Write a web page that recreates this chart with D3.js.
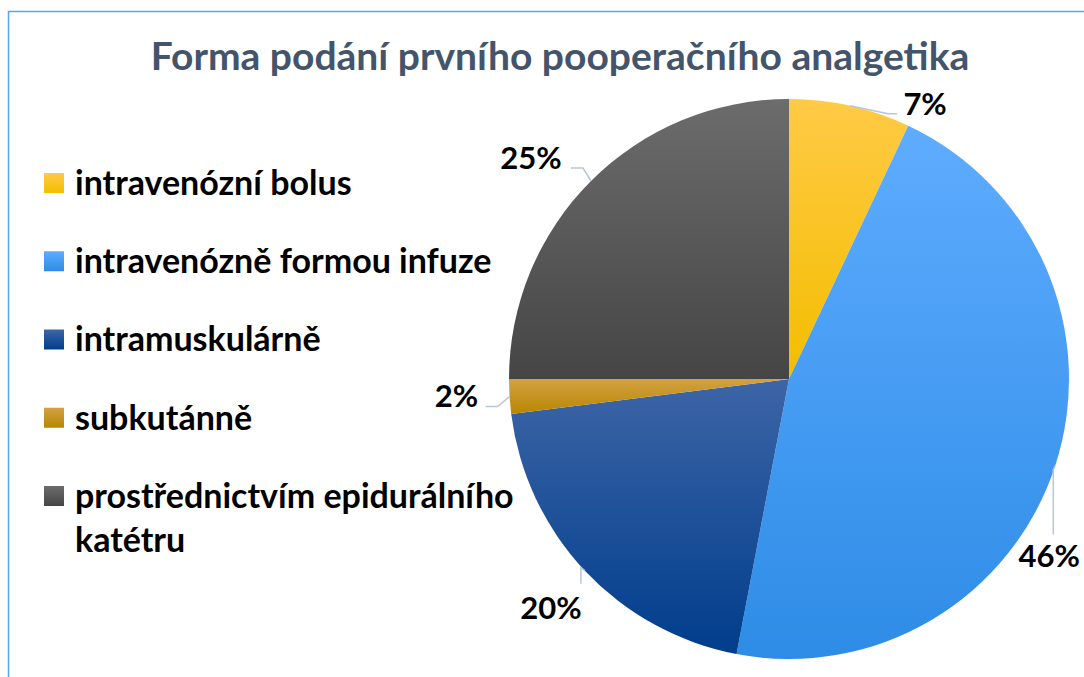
<!DOCTYPE html>
<html>
<head>
<meta charset="utf-8">
<script src="https://d3js.org/d3.v7.min.js"></script>
<style>
  body { margin: 0; background: #fff; }
  text { font-family: Lato, "Open Sans", sans-serif; font-weight: 700; }
</style>
</head>
<body>
<script>
  // data
  const categories = [
    "intravenózní bolus",
    "intravenózně formou infuze",
    "intramuskulárně",
    "subkutánně",
    "prostřednictvím epidurálního katétru"
  ];
  const values = [7, 46, 20, 2, 25];
  const labels = ["7%", "46%", "20%", "2%", "25%"];
  const title = "Forma podání prvního pooperačního analgetika";

  // colours: [top, bottom] of the vertical gradient
  const colors = [
    ["#ffca45", "#f4bd00"],
    ["#5eacff", "#2e8ce6"],
    ["#3d65a6", "#003d8c"],
    ["#d3a143", "#b88700"],
    ["#6c6c6c", "#454545"]
  ];

  // label placement relative to the mid-angle point on the arc
  const labelLayout = [
    { dx: 75, dy: -2, leader: [[38, 8], [47, 8]] },
    { dx: -6, dy: 91, leader: [[-2, 4], [-2, 69]] },
    { dx: -34, dy: 37, leader: [[-4, -3], [-4, 13]] },
    { dx: -53, dy: 0, leader: [[-12, 10], [-24, 10]] },
    { dx: -60, dy: -23, leader: [[-8, -13], [-20, -13]] }
  ];

  const width = 1084, height = 677;
  const cx = 789, cy = 379, radius = 280;

  const svg = d3.select("body").append("svg")
    .attr("width", width)
    .attr("height", height);

  const defs = svg.append("defs");
  colors.forEach(function(c, i) {
    const g = defs.append("linearGradient")
      .attr("id", "grad" + i)
      .attr("x1", 0).attr("y1", 0).attr("x2", 0).attr("y2", 1);
    g.append("stop").attr("offset", "0%").attr("stop-color", c[0]);
    g.append("stop").attr("offset", "100%").attr("stop-color", c[1]);
  });

  // chart border
  svg.append("path")
    .attr("d", "M8.5," + height + " V11.5 H" + width)
    .attr("fill", "none")
    .attr("stroke", "#5aa2f2")
    .attr("stroke-width", 1.5);

  svg.append("text")
    .attr("x", 560)
    .attr("y", 70)
    .attr("text-anchor", "middle")
    .attr("fill", "#44546a")
    .attr("font-size", 39)
    .text(title);

  // pie
  const pie = d3.pie().sort(null).value(function(d) { return d; });
  const arc = d3.arc().innerRadius(0).outerRadius(radius);
  const arcs = pie(values);

  const g = svg.append("g").attr("transform", "translate(" + cx + "," + cy + ")");

  g.selectAll("path.slice")
    .data(arcs)
    .enter()
    .append("path")
      .attr("class", "slice")
      .attr("d", arc)
      .attr("fill", function(d, i) { return "url(#grad" + i + ")"; });

  // labels and leader lines
  arcs.forEach(function(d, i) {
    const mid = (d.startAngle + d.endAngle) / 2;
    const ax = radius * Math.sin(mid);
    const ay = -radius * Math.cos(mid);
    const lay = labelLayout[i];
    const pts = [[ax, ay]].concat(lay.leader.map(function(p) { return [ax + p[0], ay + p[1]]; }));
    g.append("path")
      .attr("d", d3.line()(pts))
      .attr("fill", "none")
      .attr("stroke", "#b9c6d6")
      .attr("stroke-width", 1.5);
    g.append("text")
      .attr("x", ax + lay.dx)
      .attr("y", ay + lay.dy)
      .attr("dy", "0.35em")
      .attr("text-anchor", "middle")
      .attr("font-size", 31)
      .attr("fill", "#000")
      .text(labels[i]);
  });

  // legend
  const legendY = d3.scalePoint().domain(d3.range(categories.length)).range([183, 496]);
  const legend = svg.append("g");
  categories.forEach(function(name, i) {
    const y = legendY(i);
    legend.append("rect")
      .attr("x", 44).attr("y", y - 10)
      .attr("width", 20).attr("height", 20)
      .attr("fill", "url(#grad" + i + ")");
    const t = legend.append("text")
      .attr("x", 75).attr("y", y)
      .attr("dy", "0.35em")
      .attr("font-size", 34)
      .attr("fill", "#000");
    if (name === "prostřednictvím epidurálního katétru") {
      t.append("tspan").attr("x", 75).text("prostřednictvím epidurálního");
      t.append("tspan").attr("x", 75).attr("dy", 44).text("katétru");
    } else {
      t.text(name);
    }
  });
</script>
</body>
</html>
